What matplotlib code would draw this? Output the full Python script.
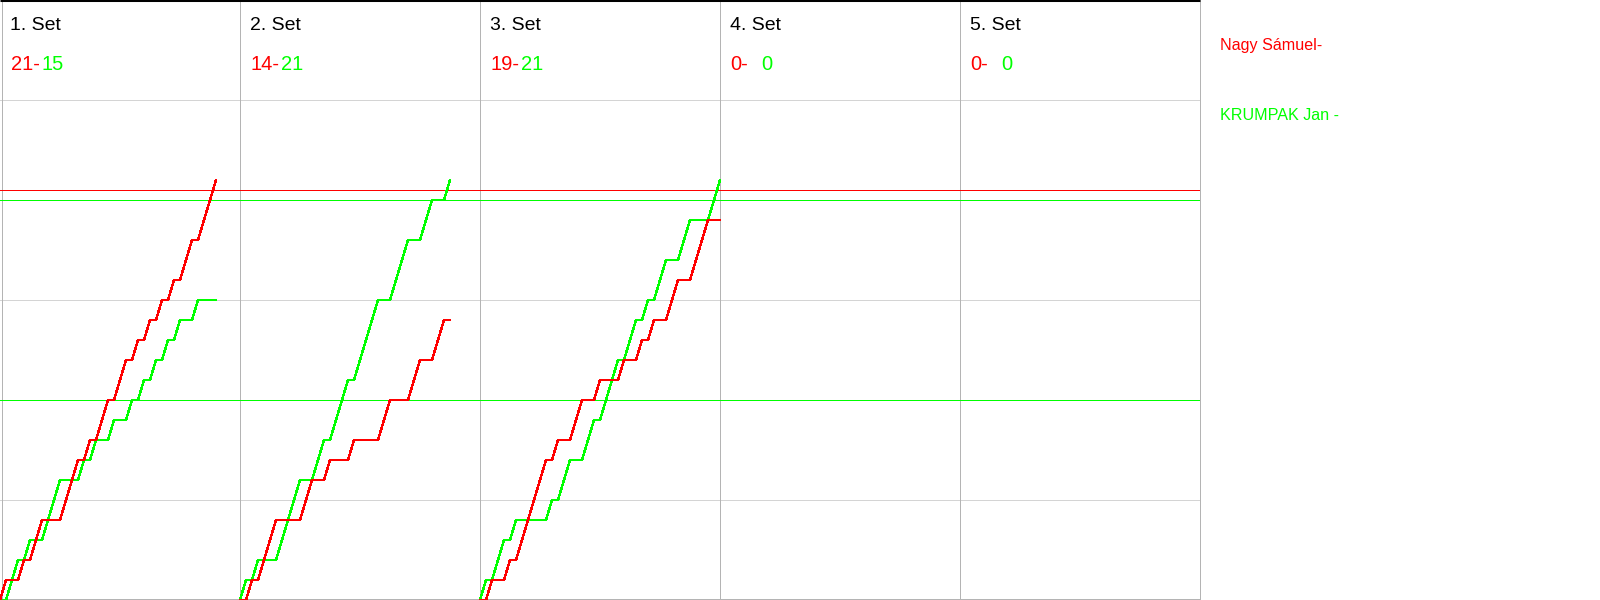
"""Rally-by-rally score progression for a five-set match."""

import matplotlib

matplotlib.use("Agg")

import matplotlib.pyplot as plt
import numpy as np

RED = "#ff0000"
GREEN = "#00ff00"

PLAYERS = ["Nagy Sámuel-", "KRUMPAK Jan -"]
SET_LABELS = ["1. Set", "2. Set", "3. Set", "4. Set", "5. Set"]
SCORES_RED = [21, 14, 19, 0, 0]
SCORES_GREEN = [15, 21, 21, 0, 0]

# winner of each rally, R = first player (red), G = second player (green)
SET1_WINNERS = "RGGRGRRGGGRRRGRGRRGRRGRGRGRGRGRRGRRR"
SET2_WINNERS = "GRGRRRGGGGRRGGRGGGRGGGGRRGGGRRGGRRG"
SET3_WINNERS = "GRGGRGRRRRRGRGGRRGGRGGGRGGRGRGGRRGGRRRGG"
SET4_WINNERS = ""
SET5_WINNERS = ""

RED_MARKS = [20.5]
GREEN_MARKS = [20, 10]
GRID_POINTS = [5, 10, 15, 20, 25]

RALLIES_PER_PANEL = 40
MAX_POINTS = 30


def _progress(winners, who):
    won = np.array([w == who for w in winners], dtype=int)
    return np.concatenate([[0], np.cumsum(won)])


def main():
    fig = plt.figure(figsize=(16, 6), dpi=100)
    ax = fig.add_axes([0, 0, 0.75, 1])
    n_sets = len(SET_LABELS)
    xmax = RALLIES_PER_PANEL * n_sets
    ax.set_xlim(0, xmax)
    ax.set_ylim(0, MAX_POINTS)
    ax.axis("off")

    # panel frame and grid
    ax.hlines(GRID_POINTS, 0, xmax, color="#d4d4d4", linewidth=0.6, antialiased=False)
    edges = [0.4] + [RALLIES_PER_PANEL * (i + 1) - 0.05 for i in range(n_sets)]
    ax.vlines(edges, 0, MAX_POINTS, color="#b4b4b4", linewidth=0.6,
              antialiased=False, clip_on=False)
    ax.hlines([0.04], 0, xmax, color="#b4b4b4", linewidth=0.6, antialiased=False,
              clip_on=False)
    ax.hlines([MAX_POINTS], 0, xmax, color="black", linewidth=2.2, clip_on=False)

    ax.hlines(RED_MARKS, 0, xmax, color=RED, linewidth=0.7, antialiased=False)
    ax.hlines(GREEN_MARKS, 0, xmax, color=GREEN, linewidth=0.7, antialiased=False)

    all_winners = [SET1_WINNERS, SET2_WINNERS, SET3_WINNERS, SET4_WINNERS, SET5_WINNERS]
    for i, winners in enumerate(all_winners):
        x0 = RALLIES_PER_PANEL * i
        if winners:
            xs = x0 + np.arange(len(winners) + 1)
            for who, color in (("G", GREEN), ("R", RED)):
                ax.plot(xs, _progress(winners, who), color=color, linewidth=1.0,
                        marker="s", markersize=2.0, markeredgewidth=0,
                        antialiased=False, zorder=3)

        ax.text(x0 + 1.75, MAX_POINTS - 1.5, SET_LABELS[i], fontsize=14,
                family="Liberation Sans", color="black", ha="left", va="baseline")
        ax.text(x0 + 1.75, MAX_POINTS - 3.5, f"{SCORES_RED[i]}-", fontsize=14.5,
                family="Liberation Sans", color=RED, ha="left", va="baseline")
        ax.text(x0 + 6.85, MAX_POINTS - 3.5, f"{SCORES_GREEN[i]}", fontsize=14.5,
                family="Liberation Sans", color=GREEN, ha="left", va="baseline")

    fig.text(1220 / 1600, 1 - 50 / 600, PLAYERS[0], fontsize=11.6,
             family="Liberation Sans", color=RED, ha="left", va="baseline")
    fig.text(1220 / 1600, 1 - 120 / 600, PLAYERS[1], fontsize=11.6,
             family="Liberation Sans", color=GREEN, ha="left", va="baseline")

    fig.savefig("out.png", dpi=100, facecolor="white")
    plt.close(fig)


if __name__ == "__main__":
    main()
